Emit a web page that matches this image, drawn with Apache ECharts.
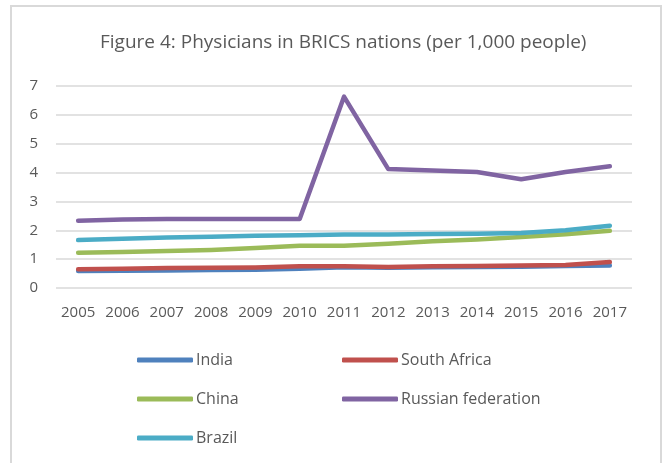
<!DOCTYPE html>
<html>
<head>
<meta charset="utf-8">
<script src="https://cdn.jsdelivr.net/npm/echarts@6/dist/echarts.min.js"></script>
<style>
  html, body { margin: 0; padding: 0; background: #fff; }
  #chart { width: 664px; height: 463px; }
</style>
</head>
<body>
<div id="chart"></div>
<script>
// Physicians per 1,000 people, BRICS nations 2005-2017
const years = ['2005','2006','2007','2008','2009','2010','2011','2012','2013','2014','2015','2016','2017'];
const india        = [0.59, 0.60, 0.61, 0.62, 0.63, 0.67, 0.72, 0.70, 0.72, 0.73, 0.74, 0.76, 0.78];
const southAfrica  = [0.65, 0.67, 0.69, 0.70, 0.71, 0.75, 0.75, 0.73, 0.75, 0.76, 0.78, 0.80, 0.90];
const china        = [1.22, 1.25, 1.28, 1.32, 1.39, 1.46, 1.46, 1.53, 1.62, 1.68, 1.77, 1.86, 1.98];
const russia       = [2.33, 2.37, 2.39, 2.39, 2.39, 2.39, 6.63, 4.12, 4.07, 4.02, 3.77, 4.02, 4.22];
const brazil       = [1.66, 1.71, 1.75, 1.78, 1.81, 1.83, 1.85, 1.85, 1.87, 1.88, 1.91, 2.00, 2.16];
const yTicks = [0, 7, 1]; // min, max, step

const FONT = '"Open Sans", sans-serif';
const TXT = '#595959';

const seriesDefs = [
  { name: 'India', data: india, color: '#4f81bd' },
  { name: 'South Africa', data: southAfrica, color: '#c0504d' },
  { name: 'China', data: china, color: '#9bbb59' },
  { name: 'Russian federation', data: russia, color: '#8064a2' },
  { name: 'Brazil', data: brazil, color: '#4bacc6' }
];
const legendPos = [
  { left: 137, top: 352 },
  { left: 342, top: 352 },
  { left: 137, top: 391 },
  { left: 342, top: 391 },
  { left: 137, top: 430 }
];

const chart = echarts.init(document.getElementById('chart'), null, { renderer: 'canvas' });
chart.setOption({
  animation: false,
  backgroundColor: '#ffffff',
  title: {
    text: 'Figure 4: Physicians in BRICS nations (per 1,000 people)',
    left: 95,
    top: 28,
    textStyle: { fontFamily: FONT, fontSize: 19, fontWeight: 'normal', color: TXT }
  },
  graphic: [{
    type: 'rect',
    shape: { x: 11, y: 6, width: 650, height: 470 },
    style: { fill: 'none', stroke: '#d9d9d9', lineWidth: 2 },
    silent: true
  }],
  legend: seriesDefs.map((s, i) => ({
    data: [s.name],
    left: legendPos[i].left,
    top: legendPos[i].top,
    icon: 'roundRect',
    itemWidth: 56,
    itemHeight: 5,
    itemGap: 0,
    padding: 0,
    textStyle: { fontFamily: FONT, fontSize: 16, color: TXT, padding: [0, 0, 0, -2] }
  })),
  grid: { left: 56, right: 32, top: 86, bottom: 175, containLabel: false },
  xAxis: {
    type: 'category',
    data: years,
    boundaryGap: true,
    axisLine: { show: false },
    axisTick: { show: false },
    axisLabel: { fontFamily: FONT, fontSize: 15, color: TXT, margin: 17, interval: 0, hideOverlap: false }
  },
  yAxis: {
    type: 'value',
    min: yTicks[0],
    max: yTicks[1],
    interval: yTicks[2],
    axisLine: { show: false },
    axisTick: { show: false },
    axisLabel: { fontFamily: FONT, fontSize: 15, color: TXT, margin: 18 },
    splitLine: { lineStyle: { color: '#d9d9d9', width: 1.5 } }
  },
  series: seriesDefs.map((s) => ({
    name: s.name,
    type: 'line',
    data: s.data,
    symbol: 'none',
    lineStyle: { color: s.color, width: 4.5, cap: 'round', join: 'round' },
    itemStyle: { color: s.color }
  }))
});
</script>
</body>
</html>
